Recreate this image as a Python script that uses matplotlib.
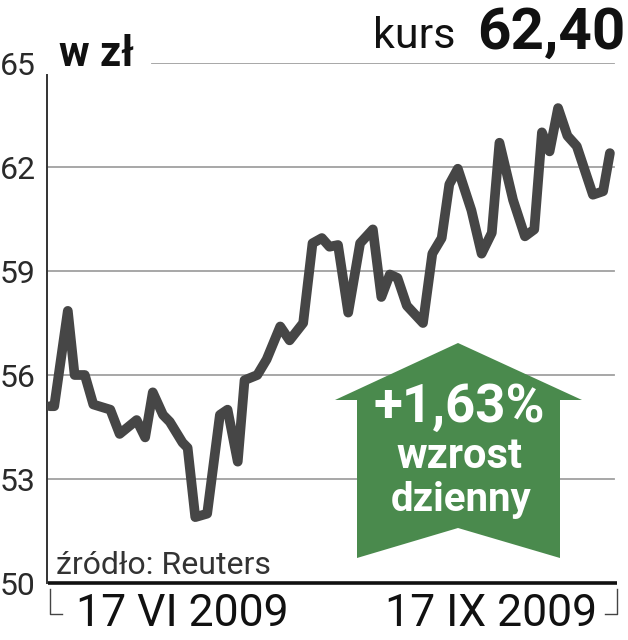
import matplotlib
matplotlib.use('Agg')
import matplotlib.pyplot as plt
from matplotlib.patches import Polygon
from matplotlib.lines import Line2D

# ---- data (trading-day index since 17 VI 2009, closing price in zł) ----
days = [0.0, 0.5, 2.1, 2.9, 4.1, 5.1, 7.1, 8.2, 10.2, 11.2, 12.1, 13.3, 14.1,
        15.6, 16.2, 17.1, 18.5, 20.0, 20.9, 22.1, 22.9, 24.4, 25.5, 27.1, 28.2,
        29.8, 30.9, 32.0, 32.9, 33.9, 35.1, 36.5, 38.0, 39.0, 40.0, 40.9, 42.0,
        43.9, 45.0, 46.1, 47.0, 48.0, 49.6, 50.8, 52.0, 52.9, 54.5, 55.9, 57.0,
        57.9, 58.8, 59.8, 60.9, 62.0, 63.9, 65.1, 65.9]
price = [55.1, 55.1, 57.85, 56.0, 56.0, 55.15, 55.0, 54.3, 54.7, 54.2, 55.5, 54.85, 54.65,
         54.05, 53.9, 51.9, 52.0, 54.85, 55.0, 53.5, 55.85, 56.0, 56.45, 57.4, 57.0,
         57.5, 59.8, 59.95, 59.7, 59.75, 57.8, 59.8, 60.2, 58.25, 58.9, 58.8, 58.0,
         57.5, 59.5, 59.95, 61.5, 61.95, 60.75, 59.5, 60.1, 62.7, 61.05, 60.0, 60.2,
         63.0, 62.45, 63.7, 62.9, 62.6, 61.2, 61.3, 62.4]
yticks = [50, 53, 56, 59, 62, 65]
date_labels = ['17 VI 2009', '17 IX 2009']
unit_label = 'w zł'
last_label = 'kurs'
last_price = '62,40'
change_text = ['+1,63%', 'wzrost', 'dzienny']
source = 'źródło: Reuters'

FONT = ['Liberation Sans Narrow', 'Roboto', 'DejaVu Sans']
plt.rcParams['font.family'] = FONT

W, H = 628, 640
fig = plt.figure(figsize=(W / 100, H / 100), dpi=100)
fig.patch.set_facecolor('white')


def fx(px):
    return px / W


def fy(py):
    return 1 - py / H


L, R, T, B = 47, 615, 63, 583
ax = fig.add_axes([fx(L), fy(B), fx(R) - fx(L), fy(T) - fy(B)])
ax.set_xlim(-0.35, 66.5)
ax.set_ylim(50, 65)
for s in ax.spines.values():
    s.set_visible(False)
ax.set_xticks([])
ax.set_yticks(yticks)
ax.set_yticklabels([str(v) for v in yticks], fontsize=23, color='#2a2a2a')
ax.tick_params(axis='y', length=0, pad=8)

grid_c = '#a0a0a0'
for v in yticks[1:-1]:
    ax.axhline(v, xmin=0, xmax=(614 - L) / (R - L), color=grid_c, lw=1.3, zorder=1)
ax.axhline(65, xmin=(152 - L) / (R - L), xmax=(614 - L) / (R - L), color=grid_c, lw=1.3, zorder=1)

# left axis line
ax.plot([0, 0], [0, (B - 75) / (B - T)], transform=ax.transAxes, color='#333333',
        lw=1.4, clip_on=False, zorder=2)
# bottom axis line
ax.plot([0.002, (617 - L) / (R - L)], [0, 0], transform=ax.transAxes, color='#111111',
        lw=2.6, clip_on=False, zorder=4, solid_capstyle='butt')

# price line
ax.plot(days, price, color='#464646', lw=7.0, solid_joinstyle='round',
        solid_capstyle='round', zorder=3)

# brackets under axis
for xs, ys in [([50, 50, 62], [589, 614, 614]), ([605, 617, 617], [614, 614, 589])]:
    fig.add_artist(Line2D([fx(x) for x in xs], [fy(y) for y in ys], color='#444444', lw=1.0))

# date labels
fig.text(fx(76), fy(614), date_labels[0], fontsize=32, color='#111111', ha='left', va='center')
fig.text(fx(597), fy(614), date_labels[1], fontsize=32, color='#111111', ha='right', va='center')

# titles
fig.text(fx(59), fy(55), unit_label, fontsize=30, color='#111111', ha='left', va='center',
         fontweight='bold')
fig.text(fx(455), fy(36), last_label, fontsize=31, color='#111111', ha='right', va='center')
fig.text(fx(626), fy(33), last_price, fontsize=42, color='#111111', ha='right', va='center',
         fontweight='bold')

# source
fig.text(fx(56), fy(566), source, fontsize=23, color='#333333', ha='left', va='center')

# green arrow
arrow_px = [(458, 343), (582, 400), (560, 400), (560, 558), (458, 528),
            (357, 558), (357, 400), (335, 400)]
fig.add_artist(Polygon([(fx(x), fy(y)) for x, y in arrow_px], closed=True,
                       facecolor='#4a8a4d', edgecolor='none', zorder=5))
fig.text(fx(459), fy(407), change_text[0], fontsize=38, color='white', ha='center',
         va='center', fontweight='bold', zorder=6)
fig.text(fx(459), fy(457), change_text[1], fontsize=30, color='white', ha='center',
         va='center', fontweight='bold', zorder=6)
fig.text(fx(461), fy(500), change_text[2], fontsize=29, color='white', ha='center',
         va='center', fontweight='bold', zorder=6)

fig.savefig('out.png', dpi=100, facecolor='white')
